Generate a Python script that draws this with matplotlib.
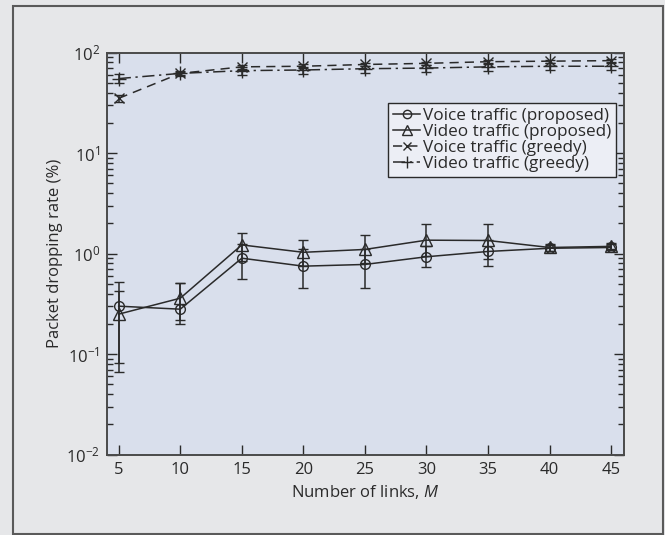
import matplotlib
matplotlib.use("Agg")
import matplotlib.pyplot as plt
from matplotlib.patches import Rectangle
from matplotlib.lines import Line2D
import numpy as np

links = [5, 10, 15, 20, 25, 30, 35, 40, 45]

voice_prop = [0.30, 0.28, 0.90, 0.75, 0.78, 0.93, 1.05, 1.13, 1.15]
voice_prop_lo = [0.067, 0.20, 0.56, 0.45, 0.46, 0.73, 0.76, 1.05, 1.08]
voice_prop_hi = [0.52, 0.51, 1.25, 1.10, 1.10, 1.20, 1.35, 1.22, 1.24]

video_prop = [0.25, 0.36, 1.22, 1.03, 1.10, 1.36, 1.35, 1.15, 1.18]
video_prop_lo = [0.082, 0.22, 0.85, 0.75, 0.80, 0.95, 0.875, 1.07, 1.10]
video_prop_hi = [0.42, 0.51, 1.60, 1.37, 1.53, 1.95, 1.98, 1.25, 1.28]

voice_greedy = [35, 62, 72, 73, 76, 78, 81, 82, 83]
voice_greedy_lo = [32, 60, 69, 70, 73, 75, 78, 79, 80]
voice_greedy_hi = [38, 64, 75, 76, 79, 81, 84, 85, 86]

video_greedy = [55, 62, 66, 67, 69, 70, 72, 73, 73]
video_greedy_lo = [50, 59, 60, 61, 63, 64, 66, 67, 67]
video_greedy_hi = [61, 65, 72, 72, 74, 75, 77, 78, 78]

labels = ["Voice traffic (proposed)", "Video traffic (proposed)",
          "Voice traffic (greedy)", "Video traffic (greedy)"]

col = "#2a2a2a"
plt.rcParams["font.family"] = ["Open Sans", "DejaVu Sans"]
plt.rcParams["mathtext.fontset"] = "custom"
plt.rcParams["mathtext.rm"] = "Open Sans"
plt.rcParams["mathtext.it"] = "Open Sans:italic"

fig = plt.figure(figsize=(6.65, 5.35), dpi=100)
fig.patch.set_facecolor("#e6e7e9")
fig.patches.append(Rectangle((12.7 / 665, 1 - 534 / 535), (662.5 - 12.7) / 665, (534 - 5.7) / 535,
                             transform=fig.transFigure, fill=False, edgecolor="#5a5a5a", linewidth=1.5))

ax = fig.add_axes([107 / 665, 1 - 454.7 / 535, (624 - 107) / 665, (454.7 - 52.5) / 535])
ax.set_facecolor("#d9dfec")


def yerr(v, lo, hi):
    v = np.array(v)
    return [v - np.array(lo), np.array(hi) - v]


styles = [("o", 7, "-"), ("^", 8, "-"), ("x", 7, (0, (6, 4))), ("+", 10, (0, (8, 3, 1.5, 3)))]
series = [(voice_prop, voice_prop_lo, voice_prop_hi),
          (video_prop, video_prop_lo, video_prop_hi),
          (voice_greedy, voice_greedy_lo, voice_greedy_hi),
          (video_greedy, video_greedy_lo, video_greedy_hi)]

handles = []
for (v, lo, hi), (m, ms, ls) in zip(series, styles):
    ax.errorbar(links, v, yerr=yerr(v, lo, hi), marker=m, markersize=ms, linestyle=ls,
                color=col, linewidth=1.1, capsize=3.8, elinewidth=1.1, capthick=1.1,
                markerfacecolor="none", markeredgecolor=col, markeredgewidth=1.0)
    handles.append(Line2D([], [], marker=m, markersize=ms - 1, linestyle=ls, color=col, linewidth=1.1,
                          markerfacecolor="none", markeredgecolor=col, markeredgewidth=1.0))

ax.set_yscale("log")
ax.set_ylim(1e-2, 1e2)
ax.set_xlim(4.05, 46.05)
ax.set_xticks(links)
ax.tick_params(which="both", direction="in", top=True, right=True, colors=col, labelsize=12)
ax.tick_params(which="major", length=7, width=1.0, pad=5)
ax.tick_params(which="minor", length=4, width=1.0)
ax.tick_params(axis="x", which="minor", top=False, bottom=False)
for s in ax.spines.values():
    s.set_color("#4a4a4a")
    s.set_linewidth(1.4)

ax.set_xlabel("Number of links, $M$", fontsize=12, color=col, labelpad=4)
ax.set_ylabel("Packet dropping rate (%)", fontsize=12, color=col, labelpad=2)

leg = ax.legend(handles, labels, loc="upper right", bbox_to_anchor=(0.985, 0.875), fontsize=12.3,
                frameon=True, fancybox=False, edgecolor=col, facecolor="#eceef5", framealpha=1,
                handlelength=1.6, handletextpad=0.15, labelspacing=0.0, borderpad=0.3,
                borderaxespad=0)
leg.get_frame().set_linewidth(1.0)
for t in leg.get_texts():
    t.set_color(col)

fig.savefig("out.png", dpi=100, facecolor=fig.get_facecolor())
